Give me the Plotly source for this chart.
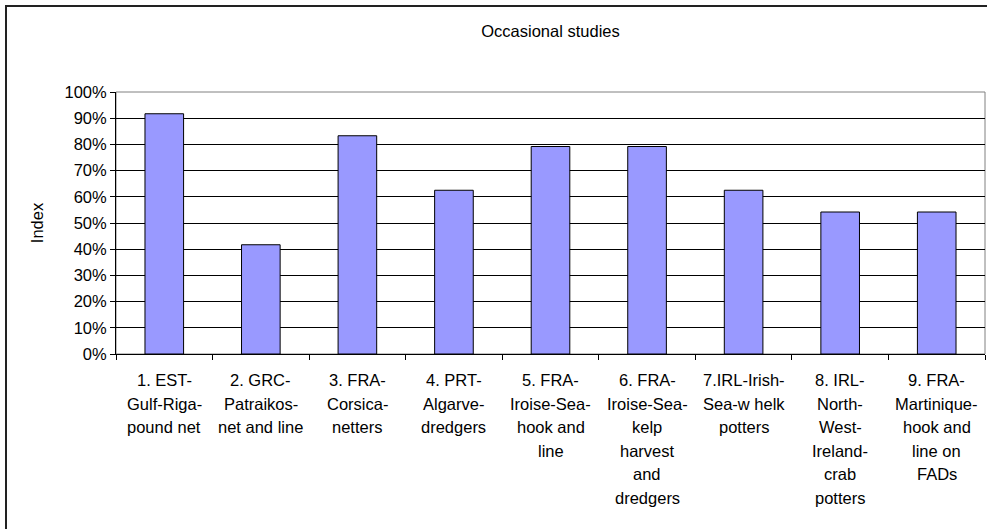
import plotly.graph_objects as go

# occasional studies - index per fishery
categories = [
    "1. EST-Gulf-Riga-pound net",
    "2. GRC-Patraikos-net and line",
    "3. FRA-Corsica-netters",
    "4. PRT-Algarve-dredgers",
    "5. FRA-Iroise-Sea-hook and line",
    "6. FRA-Iroise-Sea-kelp harvest and dredgers",
    "7.IRL-Irish-Sea-w helk potters",
    "8. IRL-North-West-Ireland-crab potters",
    "9. FRA-Martinique-hook and line on FADs",
]
label_lines = [
    ["1. EST-", "Gulf-Riga-", "pound net"],
    ["2. GRC-", "Patraikos-", "net and line"],
    ["3. FRA-", "Corsica-", "netters"],
    ["4. PRT-", "Algarve-", "dredgers"],
    ["5. FRA-", "Iroise-Sea-", "hook and", "line"],
    ["6. FRA-", "Iroise-Sea-", "kelp", "harvest", "and", "dredgers"],
    ["7.IRL-Irish-", "Sea-w helk", "potters"],
    ["8. IRL-", "North-", "West-", "Ireland-", "crab", "potters"],
    ["9. FRA-", "Martinique-", "hook and", "line on", "FADs"],
]
index_values = [0.917, 0.417, 0.833, 0.625, 0.792, 0.792, 0.625, 0.542, 0.542]

FONT = "Liberation Sans, Arial, sans-serif"
FS = 16.5

fig = go.Figure()
fig.add_trace(go.Bar(
    x=categories, y=index_values,
    marker=dict(color="#9999FF", line=dict(color="black", width=1)),
))

# multi-line category labels (Excel-like line spacing)
for cat, lines in zip(categories, label_lines):
    for i, txt in enumerate(lines):
        fig.add_annotation(x=cat, y=0, xref="x", yref="y", text=txt,
                           showarrow=False, yanchor="middle",
                           yshift=-(26 + i * 23.5),
                           font=dict(family=FONT, size=FS, color="black"))

# chart area frame
fig.add_shape(type="rect", xref="paper", yref="paper",
              xsizemode="pixel", ysizemode="pixel", xanchor=0, yanchor=1,
              x0=-110, x1=900, y0=86, y1=-600,
              line=dict(color="#222222", width=2), layer="above")

fig.update_layout(
    width=987, height=529,
    margin=dict(l=116, r=2, t=92, b=175),
    paper_bgcolor="white", plot_bgcolor="white",
    font=dict(family=FONT, size=FS, color="black"),
    title=dict(text="Occasional studies", x=0.5, xref="paper", y=1 - 31.5 / 529,
               yanchor="middle", font=dict(size=FS)),
    showlegend=False,
    bargap=0.6,
)
fig.update_xaxes(showticklabels=False, tickson="boundaries", ticks="outside",
                 ticklen=5, tickcolor="black", showline=True, linecolor="black",
                 mirror=False, showgrid=False)
fig.update_yaxes(range=[0, 1], dtick=0.1, tickformat=".0%", ticks="outside",
                 ticklen=5, tickcolor="black", showline=True, linecolor="black",
                 showgrid=True, gridcolor="black", gridwidth=1, zeroline=False,
                 title=dict(text="Index", standoff=16, font=dict(size=FS)),
                 tickfont=dict(size=FS))
# gray plot-area border on top/right
fig.add_shape(type="rect", xref="paper", yref="paper", x0=0, x1=1, y0=0, y1=1,
              line=dict(color="#808080", width=1), layer="below")

fig.write_html("out.html", config={"displayModeBar": False},
               post_script="document.body.style.margin='0';document.body.style.overflow='hidden';")
